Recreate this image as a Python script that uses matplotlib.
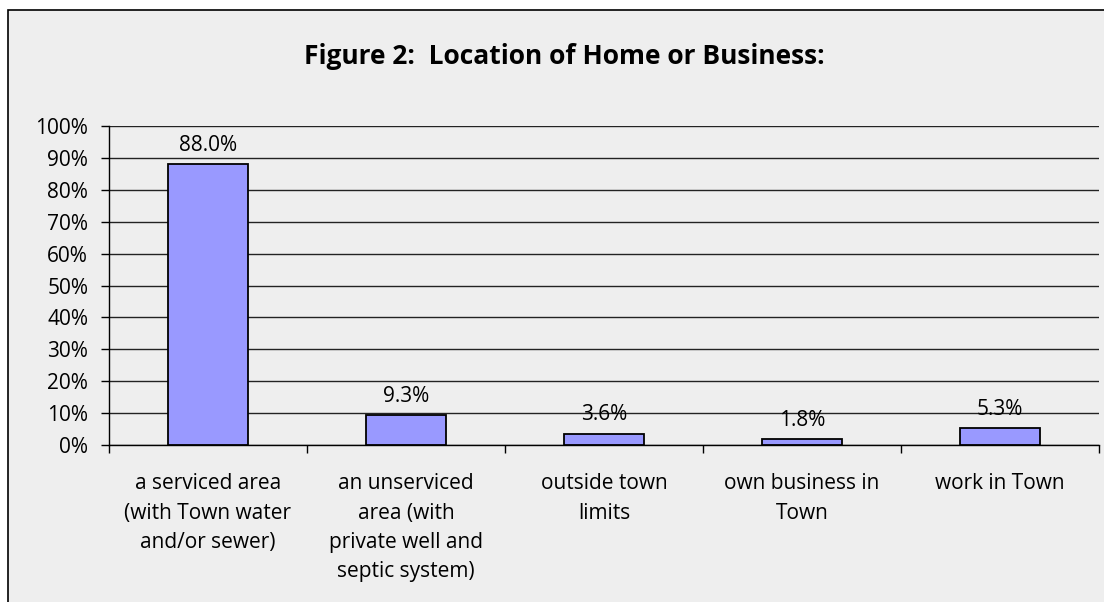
import matplotlib
matplotlib.use("Agg")
import matplotlib.pyplot as plt
from matplotlib.patches import Rectangle
from matplotlib.ticker import FixedLocator, NullFormatter

plt.rcParams['font.family'] = ['Open Sans', 'DejaVu Sans']

categories = [
    "a serviced area\n(with Town water\nand/or sewer)",
    "an unserviced\narea (with\nprivate well and\nseptic system)",
    "outside town\nlimits",
    "own business in\nTown",
    "work in Town",
]
values = [88.0, 9.3, 3.6, 1.8, 5.3]
yticks = list(range(0, 101, 10))
ytick_labels = [f"{t}%" for t in yticks]
title = "Figure 2:  Location of Home or Business:"

W, H, DPI = 1104, 602, 100
fig = plt.figure(figsize=(W / DPI, H / DPI), dpi=DPI, facecolor="white")

# chart area panel with a thin frame
panel = Rectangle((8 / W, -0.05), 1.2, 1 - 10 / H + 0.05, transform=fig.transFigure,
                  facecolor="#EEEEEE", edgecolor="black", linewidth=1.2, zorder=-10)
fig.patches.append(panel)

ax_left, ax_right = 109 / W, 1099 / W
ax_top, ax_bottom = 1 - 126 / H, 1 - 445 / H
ax = fig.add_axes([ax_left, ax_bottom, ax_right - ax_left, ax_top - ax_bottom])
ax.set_zorder(1)
ax.set_facecolor("none")

x = list(range(len(values)))
ax.bar(x, values, width=0.4, color="#9999FF", edgecolor="black", linewidth=1.3, zorder=3)

for xi, v in zip(x, values):
    ax.annotate(f"{v:.1f}%", (xi, v), xytext=(0, 6), textcoords="offset points",
                ha="center", va="bottom", fontsize=15, color="black", zorder=4)

ax.set_xlim(-0.5, len(values) - 0.5)
ax.set_ylim(0, 100)
ax.set_yticks(yticks)
ax.set_yticklabels(ytick_labels, fontsize=15)
ax.yaxis.grid(True, color="#222222", linewidth=1.0, zorder=1)
ax.set_axisbelow(True)

# category labels centred under the bars, ticks on category boundaries
ax.xaxis.set_major_locator(FixedLocator([i - 0.5 for i in range(len(values) + 1)]))
ax.xaxis.set_major_formatter(NullFormatter())
ax.xaxis.set_minor_locator(FixedLocator(x))
ax.set_xticklabels(categories, minor=True, fontsize=15, linespacing=1.52, va="top")
ax.tick_params(axis="x", which="minor", length=0, pad=20.5)
ax.tick_params(axis="x", which="major", direction="out", length=6, width=1, color="black")
ax.tick_params(axis="y", direction="out", length=6, width=1, color="black", pad=9)

for s in ["top", "right"]:
    ax.spines[s].set_visible(False)
for s in ["left", "bottom"]:
    ax.spines[s].set_color("black")
    ax.spines[s].set_linewidth(1.0)

fig.text(564 / W, 1 - 57 / H, title, ha="center", va="center",
         fontsize=19, fontweight="bold", color="black")

fig.savefig("out.png", dpi=DPI, facecolor=fig.get_facecolor())
